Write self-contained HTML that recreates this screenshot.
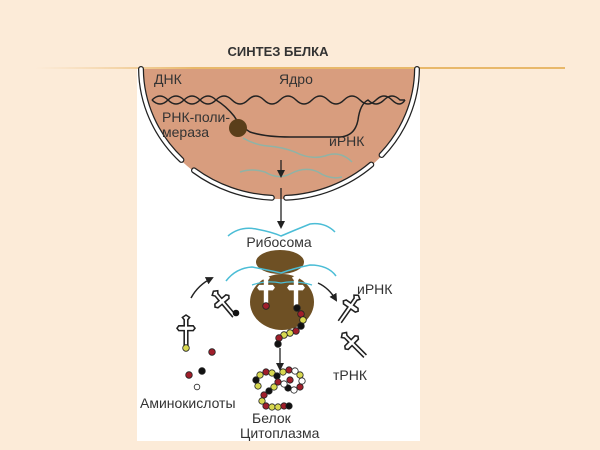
<!DOCTYPE html>
<html><head><meta charset="utf-8"><style>
html,body{margin:0;padding:0;background:#fcebd8;width:600px;height:450px;overflow:hidden}
svg{display:block}
text{font-family:"Liberation Sans",sans-serif;fill:#333}
</style></head><body>
<svg width="600" height="450" viewBox="0 0 600 450">
<defs>
<linearGradient id="ln" x1="0" x2="1"><stop offset="0" stop-color="#f0c890" stop-opacity="0"/><stop offset="0.3" stop-color="#e8b86a"/><stop offset="1" stop-color="#e8b86a"/></linearGradient>
<marker id="ah" markerWidth="8" markerHeight="8" refX="6" refY="4" orient="auto" markerUnits="userSpaceOnUse"><path d="M0,0 L8,4 L0,8 Z" fill="#222"/></marker>
<g id="trna" fill="none" stroke="#222" stroke-width="1.3">
<path d="M-1.5,12 L-1.5,-2 L-6,-2 L-7.5,-4 L-6,-6 L-1.5,-6 L-1.5,-11 L-3,-13 L0,-15 L3,-13 L1.5,-11 L1.5,-6 L6,-6 L7.5,-4 L6,-2 L1.5,-2 L1.5,12" fill="#fff"/>
</g>
<g id="trnaw" fill="#fff" stroke="#fff" stroke-width="1">
<path d="M-1.5,12 L-1.5,-2 L-6,-2 L-7.5,-4 L-6,-6 L-1.5,-6 L-1.5,-11 L-3,-13 L0,-15 L3,-13 L1.5,-11 L1.5,-6 L6,-6 L7.5,-4 L6,-2 L1.5,-2 L1.5,12 Z"/>
</g>
</defs>
<rect x="0" y="0" width="600" height="450" fill="#fcebd8"/>
<rect x="35" y="67" width="530" height="2" fill="url(#ln)"/>
<rect x="137" y="69" width="283" height="372" fill="#fff"/>
<text x="278" y="56" text-anchor="middle" font-size="13" font-weight="bold" fill="#333">СИНТЕЗ БЕЛКА</text>
<!-- nucleus -->
<path d="M141,69 A138 130 0 0 0 417,69 Z" fill="#d89d7e"/>
<g fill="none" stroke-linecap="round">
<g stroke="#222" stroke-width="6">
<path d="M417,69 A138 130 0 0 1 381.6,155"/>
<path d="M371.3,164.6 A138 130 0 0 1 286.2,197.8"/>
<path d="M271.8,197.8 A138 130 0 0 1 194,170.4"/>
<path d="M181.4,159.9 A138 130 0 0 1 141,69"/>
</g>
<g stroke="#fff" stroke-width="3.5">
<path d="M417,69 A138 130 0 0 1 381.6,155"/>
<path d="M371.3,164.6 A138 130 0 0 1 286.2,197.8"/>
<path d="M271.8,197.8 A138 130 0 0 1 194,170.4"/>
<path d="M181.4,159.9 A138 130 0 0 1 141,69"/>
</g>
</g>
<text x="154" y="84" font-size="14">ДНК</text>
<text x="279" y="84" font-size="14">Ядро</text>
<text x="162" y="122" font-size="14">РНК-поли-</text>
<text x="162" y="137" font-size="14">мераза</text>
<text x="329" y="146" font-size="14">иРНК</text>
<!-- DNA -->
<g fill="none" stroke="#222" stroke-width="1.5">
<path d="M152,100 Q160,92 168,100 T184,100 T200,100 T216,100 T232,100 T248,100 T264,100 T280,100 T296,100 T312,100 T328,100 T344,100 T360,100 T376,100 T392,100 T405,100"/>
<path d="M152,100 Q160,108 168,100 T184,100 T200,100 T216,100 Q226,106 234,116 Q240,126 250,132 Q265,137 290,137 L340,137 Q355,136 358,120 Q360,104 368,100 Q376,108 384,100 T400,100 L405,100"/>
</g>
<circle cx="238" cy="128" r="9" fill="#5a3e1a"/>
<!-- mRNA green -->
<g fill="none" stroke="#8fb3a6" stroke-width="1.5">
<path d="M243,138 Q255,145 268,146 Q282,147 295,152 Q310,160 325,156 Q340,150 352,162"/>
<path d="M240,172 Q252,168 265,172 Q278,180 290,174 Q305,166 318,172 Q330,180 342,177"/>
</g>
<line x1="281" y1="160" x2="281" y2="176" stroke="#222" stroke-width="1.3" marker-end="url(#ah)"/>
<line x1="281" y1="188" x2="281" y2="227" stroke="#222" stroke-width="1.3" marker-end="url(#ah)"/>
<!-- blue waves -->
<g fill="none" stroke="#4bbdd6" stroke-width="1.5">
<path d="M228,236 Q240,226 256,229 Q272,232 281,236 Q295,230 310,224 Q325,222 335,232"/>
</g>
<text x="279" y="247" text-anchor="middle" font-size="14">Рибосома</text>
<!-- ribosome -->
<ellipse cx="280" cy="262" rx="24" ry="12" fill="#6e5024"/>
<path d="M226,281 Q236,268 252,267 Q268,270 281,273 Q295,268 310,265 Q328,265 336,276" fill="none" stroke="#4bbdd6" stroke-width="1.5"/>
<ellipse cx="282" cy="302" rx="32" ry="28" fill="#6e5024"/>
<path d="M252,285 Q266,280 281,283 Q296,280 312,285" fill="none" stroke="#4bbdd6" stroke-width="1.2"/>
<use href="#trnaw" transform="translate(266,292) scale(1.1)"/>
<use href="#trnaw" transform="translate(296,292) scale(1.1)"/>
<!-- protein chain -->
<g stroke="#222" stroke-width="0.8">
<circle cx="266" cy="306" r="3.3" fill="#a01e2a"/>
<circle cx="297" cy="308" r="3.3" fill="#111"/>
<circle cx="301" cy="314" r="3.3" fill="#a01e2a"/>
<circle cx="303" cy="320" r="3.3" fill="#d8d850"/>
<circle cx="301" cy="326" r="3.3" fill="#111"/>
<circle cx="296" cy="331" r="3.3" fill="#a01e2a"/>
<circle cx="290" cy="333" r="3.3" fill="#d8d850"/>
<circle cx="284" cy="335" r="3.3" fill="#d8d850"/>
<circle cx="279" cy="338" r="3.3" fill="#a01e2a"/>
<circle cx="278" cy="344" r="3.3" fill="#111"/>
</g>
<line x1="280" y1="348" x2="280" y2="369" stroke="#222" stroke-width="1.3" marker-end="url(#ah)"/>
<!-- coiled protein -->
<g stroke="#222" stroke-width="0.8">
<circle cx="260" cy="375" r="3.2" fill="#d8d850"/><circle cx="266" cy="372" r="3.2" fill="#a01e2a"/>
<circle cx="272" cy="373" r="3.2" fill="#d8d850"/><circle cx="277" cy="376" r="3.2" fill="#111"/>
<circle cx="278" cy="382" r="3.2" fill="#a01e2a"/><circle cx="274" cy="387" r="3.2" fill="#d8d850"/>
<circle cx="269" cy="391" r="3.2" fill="#111"/><circle cx="264" cy="395" r="3.2" fill="#a01e2a"/>
<circle cx="262" cy="401" r="3.2" fill="#d8d850"/><circle cx="266" cy="406" r="3.2" fill="#a01e2a"/>
<circle cx="272" cy="407" r="3.2" fill="#d8d850"/><circle cx="278" cy="407" r="3.2" fill="#d8d850"/>
<circle cx="284" cy="406" r="3.2" fill="#a01e2a"/><circle cx="289" cy="406" r="3.2" fill="#111"/>
<circle cx="256" cy="380" r="3.2" fill="#111"/><circle cx="258" cy="386" r="3.2" fill="#d8d850"/>
<circle cx="283" cy="372" r="3.2" fill="#d8d850"/><circle cx="289" cy="370" r="3.2" fill="#a01e2a"/>
<circle cx="295" cy="371" r="3.2" fill="#fff"/><circle cx="300" cy="375" r="3.2" fill="#d8d850"/>
<circle cx="302" cy="381" r="3.2" fill="#fff"/><circle cx="300" cy="387" r="3.2" fill="#a01e2a"/>
<circle cx="294" cy="390" r="3.2" fill="#fff"/><circle cx="288" cy="388" r="3.2" fill="#111"/>
<circle cx="284" cy="384" r="3.2" fill="#fff"/><circle cx="290" cy="380" r="3.2" fill="#a01e2a"/>
</g>
<!-- tRNAs outside -->
<use href="#trna" transform="translate(186,333) scale(1.2)"/>
<circle cx="186" cy="348" r="3.3" fill="#d8d850" stroke="#222" stroke-width="0.8"/>
<use href="#trna" transform="translate(225,305) rotate(-40) scale(1.2)"/>
<circle cx="236" cy="313" r="3.3" fill="#111"/>
<use href="#trna" transform="translate(348,310) rotate(35) scale(1.2)"/>
<use href="#trna" transform="translate(355,346) rotate(-45) scale(1.2)"/>
<!-- amino acids -->
<g stroke="#222" stroke-width="0.8">
<circle cx="212" cy="352" r="3.3" fill="#a01e2a"/>
<circle cx="189" cy="375" r="3.3" fill="#a01e2a"/>
<circle cx="202" cy="371" r="3.3" fill="#111"/>
<circle cx="197" cy="387" r="2.8" fill="#fff"/>
</g>
<!-- curved arrows -->
<path d="M191,298 Q198,285 212,278" fill="none" stroke="#222" stroke-width="1.5" marker-end="url(#ah)"/>
<path d="M318,283 Q329,288 336,300" fill="none" stroke="#222" stroke-width="1.5" marker-end="url(#ah)"/>
<text x="357" y="294" font-size="14">иРНК</text>
<text x="333" y="380" font-size="14">тРНК</text>
<text x="140" y="408" font-size="14">Аминокислоты</text>
<text x="252" y="423" font-size="14">Белок</text>
<text x="240" y="438" font-size="14">Цитоплазма</text>
</svg>
</body></html>
